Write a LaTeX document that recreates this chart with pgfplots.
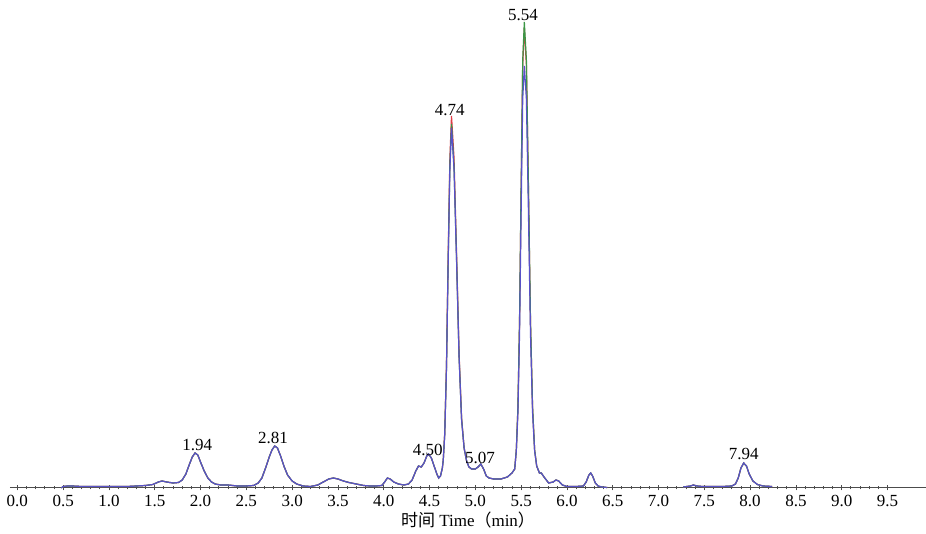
\documentclass[border=0pt]{standalone}
\usepackage{pgfplots}
\pgfplotsset{compat=1.18}
\usepackage{pgfplotstable}
\usepackage{fontspec}
\setmainfont{Liberation Serif}
\newfontfamily\cjk{Noto Sans CJK SC}
\definecolor{cred}{RGB}{225,60,70}
\definecolor{cgreen}{RGB}{60,150,70}
\definecolor{cblue}{RGB}{88,82,200}

\pgfplotstableread{
x r g b
0.48 0 0 0
0.50 1.5 1.5 1.5
0.55 2 2 2
0.60 2 2 2
0.70 1.5 1.5 1.5
0.80 1.5 1.5 1.5
1.00 1.5 1.5 1.5
1.20 1.5 1.5 1.5
1.30 2 2 2
1.40 2.5 2.5 2.5
1.48 3.5 3.5 3.5
1.54 6 6 6
1.58 7 7 7
1.63 6 6 6
1.70 5 5 5
1.76 5.5 5.5 5.5
1.80 8 8 8
1.84 14 14 14
1.88 24 24 24
1.91 31 31 31
1.94 35 35 35
1.97 33 33 33
2.00 26 26 26
2.04 17 17 17
2.08 10 10 10
2.12 6 6 6
2.16 4 4 4
2.22 3 3 3
2.30 3 3 3
2.40 2 2 2
2.50 2 2 2
2.58 2.5 2.5 2.5
2.63 5 5 5
2.67 10 10 10
2.71 20 20 20
2.75 31 31 31
2.78 38 38 38
2.81 42 42 42
2.84 40 40 40
2.87 33 33 33
2.91 22 22 22
2.95 13 13 13
3.00 7 7 7
3.05 4 4 4
3.12 2 2 2
3.20 1.5 1.5 1.5
3.28 3 3 3
3.34 6 6 6
3.40 9 9 9
3.45 10 10 10
3.50 9 9 9
3.56 7 7 7
3.62 5.5 5.5 5.5
3.70 4 4 4
3.78 2.5 2.5 2.5
3.85 2 2 2
3.92 2 2 2
3.98 2.5 2.5 2.5
4.01 6 6 6
4.04 10 10 10
4.07 9 9 9
4.11 6 6 6
4.16 4 4 4
4.22 3 3 3
4.27 4 4 4
4.31 8 8 8
4.35 17 17 17
4.38 22 22 22
4.41 21 21 21
4.44 25 25 25
4.47 32 32 32
4.49 34 34 34
4.52 30 30 30
4.55 22 22 22
4.58 14 14 14
4.60 10 10 10
4.62 12 12 12
4.64 20 20 20
4.65 28 28 28
4.666 55 54 53
4.685 123 120 119
4.703 229 224 222
4.722 329 322 318
4.74 372 364 360
4.7675 330 322 319
4.795 235 230 228
4.8225 135 132 131
4.85 70 69 68
4.8775 40 40 40
4.905 27 27 27
4.93 21 21 21
4.96 19 19 19
5.00 19 19 19
5.03 21 21 21
5.06 24 24 24
5.09 19 19 19
5.12 12 12 12
5.15 10 10 10
5.20 9 9 9
5.28 9 9 9
5.35 11 11 11
5.40 15 15 15
5.43 19 19 19
5.4475 38 38 37
5.465 80 81 75
5.4825 165 167 153
5.50 299 302 275
5.5175 423 428 389
5.535 460 466 422
5.5575 423 428 389
5.58 299 302 275
5.6025 165 167 153
5.625 80 81 75
5.6475 38 38 37
5.67 22 22 22
5.70 15 15 15
5.72 15 15 15
5.75 11 11 11
5.80 5 5 5
5.85 6 6 6
5.88 8 8 8
5.91 7 7 7
5.95 3 3 3
6.00 1.5 1.5 1.5
6.10 1.5 1.5 1.5
6.18 2 2 2
6.21 6 6 6
6.24 13 13 13
6.26 15 15 15
6.28 12 12 12
6.31 5 5 5
6.34 2 2 2
6.38 1 1 1
6.44 0.5 0.5 0.5
6.85 nan nan nan
7.27 1 1 1
7.35 2 2 2
7.38 3 3 3
7.42 2 2 2
7.48 1.5 1.5 1.5
7.60 1.5 1.5 1.5
7.70 1.5 1.5 1.5
7.80 2 2 2
7.84 4 4 4
7.87 10 10 10
7.90 20 20 20
7.93 25 25 25
7.96 22 22 22
7.99 14 14 14
8.03 7 7 7
8.08 3.5 3.5 3.5
8.14 2 2 2
8.24 1.5 1.5 1.5
}\chrom

\begin{document}
\begin{tikzpicture}
\begin{axis}[
  at={(0,0)}, anchor=south west,
  scale only axis,
  width=458pt, height=244pt,
  xmin=-0.08, xmax=9.92,
  ymin=0, ymax=488,
  axis x line=bottom,
  axis y line=none,
  axis line style={-, draw=black!70, line width=0.5pt},
  clip=false,
  unbounded coords=jump,
  xtick={0,0.5,...,9.5},
  minor x tick num=4,
  major tick length=2.5pt,
  minor tick length=1.5pt,
  tick align=center,
  tick style={black!70, line width=0.4pt},
  xticklabel style={font=\fontsize{8.5}{9}\selectfont, yshift=1pt},
  /pgf/number format/.cd, fixed, fixed zerofill, precision=1, assume math mode=true,
  /pgfplots/.cd,
  xlabel={{\cjk 时间} Time{\cjk （}min{\cjk ）}},
  xlabel style={font=\fontsize{8.5}{10}\selectfont, at={(rel axis cs:0.5,0)}, anchor=center, yshift=-16pt},
]
\addplot[cred, line width=0.6pt] table[x=x, y=r] {\chrom};
\addplot[cgreen, line width=0.6pt] table[x=x, y=g] {\chrom};
\addplot[cblue, line width=0.6pt] table[x=x, y=b] {\chrom};
\begin{scope}[every node/.style={font=\fontsize{8.5}{9}\selectfont, inner sep=0pt}]
\node at (axis cs:1.965,43) {1.94};
\node at (axis cs:2.79,50) {2.81};
\node at (axis cs:4.48,38) {4.50};
\node at (axis cs:4.72,378) {4.74};
\node at (axis cs:5.05,30) {5.07};
\node at (axis cs:5.52,473) {5.54};
\node at (axis cs:7.93,34) {7.94};
\end{scope}
\end{axis}
\pgfresetboundingbox
\path (-5pt,-23pt) rectangle (458pt,244pt);
\end{tikzpicture}
\end{document}
